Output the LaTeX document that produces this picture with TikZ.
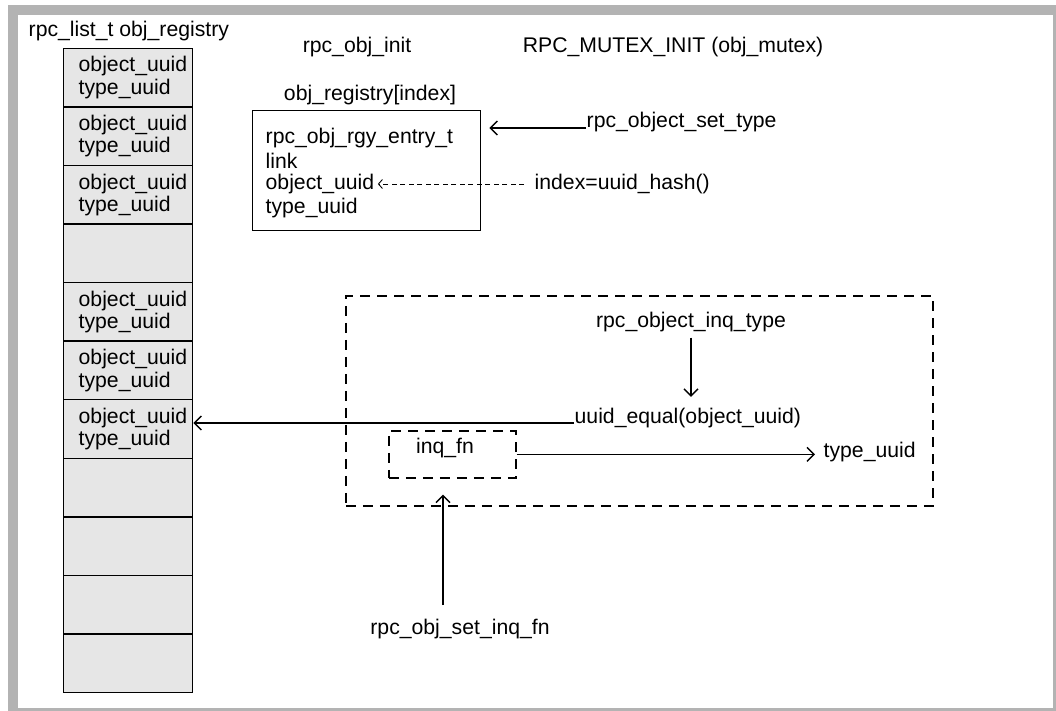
\documentclass[tikz,border=0pt]{standalone}
\usepackage{fontspec}
\setmainfont{Liberation Sans}
\usetikzlibrary{arrows.meta,positioning}
\definecolor{framegray}{HTML}{B3B3B3}
\definecolor{cellgray}{HTML}{E6E6E6}
\definecolor{ink}{HTML}{000000}

\begin{document}
\begin{tikzpicture}[x=1pt,y=-1pt,>={Straight Barb[length=7pt,width=14pt]},
  font=\fontsize{21.2}{22.5}\selectfont,line width=1.4pt,
  cell/.style={draw=ink,fill=cellgray,minimum width=129pt,minimum height=58.55pt,inner sep=0pt,anchor=north west},
  celltext/.style={anchor=west,align=left,inner sep=0pt},
  txt/.style={inner sep=0pt},
  dashbox/.style={draw=ink,line width=1.6pt,dash pattern=on 10pt off 7pt,inner sep=0pt,anchor=north west}]
  \useasboundingbox (0,0) rectangle (1056,711);
  % frame
  \fill[framegray] (8,5) rectangle (1056,711);
  \fill[white] (18,15) rectangle (1053,708);
  % list column
  \node[txt,anchor=west] (listlbl) at (28,31) {rpc\_list\_t obj\_registry};
  \foreach \i in {0,...,10}
    \node[cell] (c\i) at (63,{47.7+58.55*\i}) {};
  \foreach \i in {0,1,2,4,5,6}
    \node[celltext] (t\i) at ([xshift=15pt]c\i.west) {object\_uuid\\type\_uuid};
  % init calls
  \node[txt] (objinit) at (357,47) {rpc\_obj\_init};
  \node[txt] (mutexinit) at (673,47) {RPC\_MUTEX\_INIT (obj\_mutex)};
  % registry entry
  \node[txt] (entrylbl) at (370,95) {obj\_registry[index]};
  \node[draw=ink,minimum width=228pt,minimum height=120pt,inner sep=0pt,anchor=north west] (entry) at (252,110) {};
  \node[txt,anchor=west] (ename) at (265,138) {rpc\_obj\_rgy\_entry\_t};
  \node[txt,anchor=west] (elink) at (265,161) {link};
  \node[txt,anchor=west] (euuid) at (265,184) {object\_uuid};
  \node[txt,anchor=west] (etype) at (265,208) {type\_uuid};
  \node[txt,anchor=base west] (settype) at (586,128) {rpc\_object\_set\_type};
  \coordinate (settip) at ([xshift=8pt]entry.east);
  \draw[->] (settype.base west) -- (settype.base west -| settip);
  \node[txt,anchor=west] (hash) at (534,184) {index=uuid\_hash()};
  \draw[->,line width=0.9pt,dash pattern=on 5pt off 3.5pt,>={Straight Barb[length=4pt,width=9pt]}]
    ([xshift=-10pt]hash.west) -- ([xshift=3pt]euuid.east);
  % inquiry
  \node[dashbox,minimum width=587pt,minimum height=210pt] (inqbox) at (345,295) {};
  \node[txt] (inqtype) at (691,322) {rpc\_object\_inq\_type};
  \node[txt,anchor=base west] (equal) at (574,423) {uuid\_equal(object\_uuid)};
  \draw[->] ([yshift=-5pt]inqtype.south) -- ([yshift=10pt]equal.north -| inqtype.south);
  \draw[->] (equal.base west) -- (equal.base west -| c6.east);
  \node[dashbox,minimum width=127pt,minimum height=47pt] (inqfn) at (388,430) {};
  \node[txt] (inqfnlbl) at (445,448) {inq\_fn};
  \node[txt,anchor=west] (typeout) at (823,452) {type\_uuid};
  \draw[->] (inqfn.east) -- ([xshift=-8pt]typeout.west |- inqfn.east);
  \node[txt] (setinq) at (460,629) {rpc\_obj\_set\_inq\_fn};
  \coordinate (setinqtop) at (443,605);
  \draw[->] (setinqtop) -- ([yshift=12pt]inqbox.south -| setinqtop);
\end{tikzpicture}
\end{document}
